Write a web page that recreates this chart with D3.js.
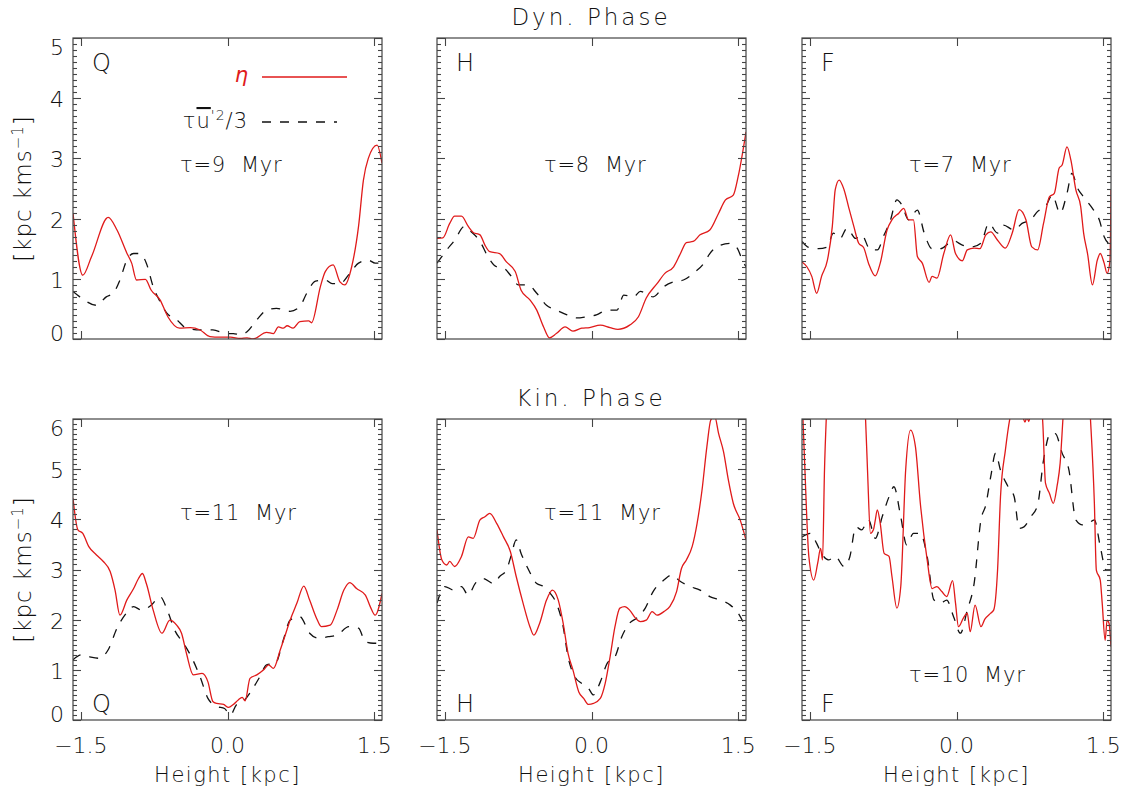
<!DOCTYPE html>
<html lang="en">
  <head>
    <meta charset="UTF-8" />
    <title>Dyn. / Kin. Phase</title>
    <script src="https://cdn.jsdelivr.net/npm/d3@7"></script>
    <style>
      body { margin: 0; background: #fff; }
      text { font-family: "DejaVu Sans", sans-serif; font-weight: 300; fill: #111; white-space: pre; }
    </style>
  </head>
  <body>
    <div id="chart"></div>
    <script>
      // ---- data: [height kpc, value] ----
      const dynQEta = [[-1.58,2.09],[-1.48,1.06],[-1.39,1.37],[-1.22,2.02],[-1.13,1.81],[-1.03,1.43],[-0.98,1.26],[-0.93,0.98],[-0.84,0.99],[-0.78,0.81],[-0.69,0.65],[-0.61,0.37],[-0.49,0.18],[-0.38,0.19],[-0.28,0.15],[-0.18,0.04],[-0.08,0.03],[0.03,0.03],[0.13,0.01],[0.20,0.02],[0.26,0.0],[0.40,0.11],[0.47,0.09],[0.52,0.20],[0.57,0.18],[0.61,0.22],[0.67,0.18],[0.74,0.29],[0.83,0.30],[0.86,0.27],[0.95,0.87],[1.00,1.12],[1.08,1.23],[1.15,0.95],[1.20,0.90],[1.27,1.20],[1.34,1.87],[1.39,2.64],[1.44,3.00],[1.53,3.22],[1.58,2.92]];
      const dynQTurb = [[-1.58,0.79],[-1.51,0.70],[-1.34,0.56],[-1.24,0.70],[-1.17,0.76],[-1.10,0.98],[-1.03,1.31],[-0.96,1.42],[-0.90,1.42],[-0.83,1.26],[-0.76,0.87],[-0.69,0.62],[-0.62,0.43],[-0.52,0.32],[-0.42,0.18],[-0.28,0.15],[-0.15,0.15],[-0.01,0.09],[0.06,0.09],[0.13,0.07],[0.20,0.12],[0.30,0.32],[0.40,0.48],[0.50,0.51],[0.64,0.46],[0.74,0.54],[0.81,0.76],[0.90,0.96],[1.00,0.98],[1.07,0.92],[1.15,0.92],[1.25,1.09],[1.34,1.26],[1.44,1.31],[1.51,1.26],[1.58,1.26]];

      const dynHEta = [[-1.58,1.67],[-1.52,1.68],[-1.45,1.92],[-1.40,2.04],[-1.33,2.04],[-1.26,1.87],[-1.21,1.77],[-1.14,1.73],[-1.09,1.56],[-1.04,1.45],[-0.94,1.42],[-0.87,1.28],[-0.78,1.12],[-0.72,0.81],[-0.63,0.65],[-0.56,0.48],[-0.49,0.20],[-0.43,0.02],[-0.36,0.09],[-0.27,0.20],[-0.19,0.13],[-0.10,0.18],[-0.02,0.19],[0.09,0.23],[0.19,0.19],[0.27,0.16],[0.39,0.23],[0.48,0.37],[0.56,0.68],[0.67,0.92],[0.75,1.09],[0.84,1.20],[0.91,1.42],[0.97,1.60],[1.04,1.62],[1.11,1.73],[1.21,1.81],[1.30,2.09],[1.37,2.31],[1.45,2.39],[1.50,2.70],[1.58,3.44]];
      const dynHTurb = [[-1.58,1.26],[-1.48,1.48],[-1.40,1.64],[-1.30,1.87],[-1.23,1.78],[-1.14,1.62],[-1.06,1.37],[-0.97,1.20],[-0.90,1.18],[-0.82,1.04],[-0.75,0.90],[-0.65,0.90],[-0.56,0.76],[-0.46,0.56],[-0.36,0.48],[-0.25,0.40],[-0.15,0.35],[-0.05,0.37],[0.05,0.40],[0.16,0.48],[0.26,0.48],[0.33,0.73],[0.43,0.70],[0.50,0.79],[0.63,0.70],[0.74,0.87],[0.84,0.95],[0.94,0.98],[1.04,1.09],[1.15,1.26],[1.21,1.42],[1.32,1.56],[1.42,1.59],[1.49,1.51],[1.55,1.28],[1.58,1.20]];

      const dynFEta = [[-1.58,1.28],[-1.53,1.20],[-1.48,1.04],[-1.43,0.76],[-1.38,1.04],[-1.32,1.31],[-1.27,1.87],[-1.24,2.48],[-1.20,2.64],[-1.15,2.48],[-1.10,2.17],[-1.05,1.87],[-1.00,1.59],[-0.95,1.52],[-0.90,1.26],[-0.83,1.05],[-0.78,1.26],[-0.71,1.81],[-0.66,1.98],[-0.59,2.09],[-0.54,2.17],[-0.49,1.98],[-0.44,1.98],[-0.40,1.37],[-0.35,1.26],[-0.28,0.94],[-0.25,1.04],[-0.20,1.01],[-0.13,1.42],[-0.06,1.73],[-0.01,1.42],[0.06,1.30],[0.11,1.48],[0.18,1.51],[0.24,1.50],[0.30,1.73],[0.35,1.78],[0.42,1.64],[0.50,1.51],[0.57,1.76],[0.64,2.15],[0.71,1.98],[0.77,1.53],[0.83,1.48],[0.89,1.92],[0.95,2.36],[1.00,2.42],[1.05,2.84],[1.08,2.89],[1.13,3.19],[1.17,2.97],[1.22,2.48],[1.27,2.20],[1.30,1.76],[1.34,1.42],[1.39,0.90],[1.44,1.31],[1.47,1.42],[1.51,1.26],[1.54,1.09],[1.57,1.31],[1.58,2.48]];
      const dynFTurb = [[-1.58,1.62],[-1.51,1.52],[-1.41,1.50],[-1.32,1.53],[-1.26,1.76],[-1.19,1.67],[-1.12,1.84],[-1.03,1.67],[-0.97,1.73],[-0.88,1.48],[-0.81,1.48],[-0.74,1.73],[-0.68,1.95],[-0.61,2.31],[-0.56,2.23],[-0.49,1.98],[-0.40,2.14],[-0.33,1.76],[-0.25,1.50],[-0.16,1.50],[-0.08,1.59],[-0.03,1.63],[0.06,1.56],[0.16,1.53],[0.25,1.59],[0.33,1.92],[0.42,1.76],[0.48,1.89],[0.59,1.81],[0.67,1.92],[0.76,1.98],[0.83,2.12],[0.91,2.20],[0.98,2.39],[1.06,2.09],[1.13,2.42],[1.18,2.75],[1.24,2.50],[1.30,2.36],[1.39,2.17],[1.46,1.98],[1.51,1.70],[1.58,1.56]];

      const kinQEta = [[-1.58,4.42],[-1.53,3.79],[-1.48,3.72],[-1.42,3.46],[-1.34,3.29],[-1.27,3.16],[-1.20,2.96],[-1.15,2.59],[-1.10,2.09],[-1.03,2.39],[-0.96,2.62],[-0.91,2.82],[-0.87,2.92],[-0.83,2.72],[-0.76,2.19],[-0.67,1.73],[-0.59,1.99],[-0.52,1.89],[-0.47,1.73],[-0.42,1.33],[-0.35,0.90],[-0.26,0.93],[-0.20,0.76],[-0.15,0.37],[-0.11,0.33],[-0.04,0.31],[0.01,0.25],[0.06,0.31],[0.11,0.40],[0.15,0.45],[0.18,0.38],[0.23,0.83],[0.30,0.90],[0.37,1.00],[0.42,1.10],[0.47,1.03],[0.54,1.40],[0.59,1.69],[0.64,1.99],[0.71,2.33],[0.78,2.67],[0.84,2.39],[0.91,2.03],[0.96,1.86],[1.05,1.89],[1.12,2.19],[1.19,2.59],[1.25,2.74],[1.32,2.62],[1.41,2.49],[1.46,2.26],[1.51,2.09],[1.58,2.52]];
      const kinQTurb = [[-1.58,1.20],[-1.49,1.30],[-1.41,1.26],[-1.31,1.23],[-1.22,1.40],[-1.13,1.83],[-1.05,2.09],[-0.96,2.26],[-0.88,2.19],[-0.78,2.29],[-0.69,2.46],[-0.61,2.16],[-0.54,1.79],[-0.45,1.53],[-0.37,1.26],[-0.28,0.86],[-0.20,0.43],[-0.11,0.27],[-0.03,0.23],[0.03,0.10],[0.09,0.30],[0.16,0.37],[0.25,0.60],[0.33,0.86],[0.40,1.10],[0.49,1.13],[0.57,1.59],[0.64,1.99],[0.74,2.06],[0.84,1.73],[0.93,1.63],[1.03,1.66],[1.12,1.69],[1.24,1.86],[1.34,1.83],[1.41,1.56],[1.49,1.53],[1.58,1.53]];

      const kinHEta = [[-1.58,3.79],[-1.53,3.19],[-1.48,3.09],[-1.45,3.16],[-1.40,3.06],[-1.33,3.26],[-1.26,3.65],[-1.21,3.62],[-1.14,3.99],[-1.09,4.05],[-1.04,4.12],[-0.97,3.92],[-0.90,3.65],[-0.83,3.36],[-0.77,2.86],[-0.70,2.33],[-0.63,1.86],[-0.59,1.69],[-0.53,1.93],[-0.46,2.39],[-0.40,2.59],[-0.34,2.39],[-0.29,1.93],[-0.24,1.33],[-0.19,1.00],[-0.13,0.56],[-0.08,0.43],[-0.03,0.31],[0.02,0.33],[0.09,0.43],[0.14,0.73],[0.19,1.26],[0.24,1.86],[0.29,2.23],[0.34,2.26],[0.39,2.19],[0.45,2.03],[0.50,1.96],[0.56,1.99],[0.62,2.16],[0.67,2.09],[0.74,2.16],[0.80,2.26],[0.87,2.56],[0.92,3.02],[0.97,3.19],[1.03,3.46],[1.08,3.92],[1.13,4.58],[1.18,5.45],[1.22,5.98],[1.26,6.05],[1.30,5.71],[1.35,5.35],[1.40,4.78],[1.45,4.32],[1.52,3.99],[1.58,3.59]];
      const kinHTurb = [[-1.58,2.33],[-1.50,2.66],[-1.41,2.59],[-1.33,2.66],[-1.26,2.49],[-1.19,2.72],[-1.11,2.82],[-1.00,2.72],[-0.94,2.86],[-0.87,2.99],[-0.82,3.29],[-0.77,3.59],[-0.72,3.32],[-0.65,3.02],[-0.56,2.72],[-0.49,2.66],[-0.42,2.52],[-0.36,2.33],[-0.29,1.86],[-0.24,1.26],[-0.17,0.86],[-0.10,0.73],[-0.03,0.63],[0.02,0.50],[0.09,0.76],[0.16,1.13],[0.24,1.26],[0.31,1.66],[0.39,1.93],[0.46,2.03],[0.55,2.23],[0.63,2.56],[0.74,2.79],[0.82,2.89],[0.91,2.76],[1.01,2.66],[1.11,2.59],[1.21,2.46],[1.32,2.39],[1.42,2.29],[1.50,2.13],[1.58,1.83]];

      const kinFEta = [[-1.58,6.6],[-1.57,6.0],[-1.55,4.98],[-1.51,3.26],[-1.46,2.79],[-1.42,3.12],[-1.39,3.42],[-1.37,3.19],[-1.35,4.98],[-1.33,6.1],[-1.28,7.5],[-1.00,7.5],[-0.93,6.0],[-0.91,4.98],[-0.88,3.72],[-0.85,3.79],[-0.83,3.99],[-0.81,4.19],[-0.78,3.92],[-0.74,3.32],[-0.69,3.26],[-0.66,2.86],[-0.61,2.23],[-0.57,2.66],[-0.52,4.98],[-0.47,5.78],[-0.42,5.45],[-0.37,4.32],[-0.30,3.19],[-0.25,2.62],[-0.20,2.66],[-0.15,2.56],[-0.10,2.46],[-0.04,2.78],[-0.01,2.33],[0.02,1.86],[0.07,2.03],[0.11,2.13],[0.14,1.76],[0.19,2.29],[0.25,1.86],[0.29,2.01],[0.35,2.13],[0.38,2.19],[0.42,2.99],[0.45,4.45],[0.50,5.38],[0.55,6.05],[0.60,6.3],[0.68,6.03],[0.70,5.94],[0.72,6.03],[0.74,5.95],[0.77,6.3],[0.84,6.5],[0.88,6.0],[0.91,4.72],[0.95,4.52],[0.99,4.32],[1.03,4.68],[1.06,5.12],[1.09,6.05],[1.13,7.2],[1.33,7.2],[1.37,6.0],[1.41,4.32],[1.43,2.99],[1.47,2.79],[1.49,2.33],[1.52,1.59],[1.54,1.99],[1.56,1.93],[1.58,1.46]];
      const kinFTurb = [[-1.58,3.65],[-1.49,3.72],[-1.43,3.52],[-1.38,3.32],[-1.31,3.19],[-1.24,3.26],[-1.15,3.06],[-1.09,3.26],[-1.03,3.85],[-0.97,3.79],[-0.90,3.99],[-0.83,3.62],[-0.76,4.05],[-0.69,4.45],[-0.64,4.65],[-0.57,4.05],[-0.51,3.49],[-0.44,3.72],[-0.37,3.72],[-0.30,3.26],[-0.23,2.39],[-0.16,2.33],[-0.10,2.39],[-0.03,2.06],[0.04,1.73],[0.11,2.19],[0.18,2.72],[0.25,3.99],[0.30,4.29],[0.35,4.85],[0.40,5.32],[0.45,4.98],[0.52,4.68],[0.59,4.45],[0.64,3.82],[0.69,3.85],[0.76,4.05],[0.83,4.29],[0.89,5.18],[0.96,5.71],[1.01,5.71],[1.08,5.32],[1.15,4.98],[1.22,3.99],[1.29,3.89],[1.35,3.92],[1.41,3.99],[1.47,3.46],[1.53,2.99],[1.58,2.99]];

      const xTicks = [-1.5, 0, 1.5];
      const xTickLabels = ["\u22121.5", "0.0", "1.5"];
      const dynTicks = [0, 1, 2, 3, 4, 5];
      const kinTicks = [0, 1, 2, 3, 4, 5, 6];
      const letters = ["Q", "H", "F"];
      const dynTau = ["\u03c4=9\u00a0 Myr", "\u03c4=8\u00a0 Myr", "\u03c4=7\u00a0 Myr"];
      const kinTau = ["\u03c4=11\u00a0 Myr", "\u03c4=11\u00a0 Myr", "\u03c4=10\u00a0 Myr"];

      const W = 1131, H = 795;
      const svg = d3.select("#chart").append("svg").attr("width", W).attr("height", H);

      const pw = 309;
      const lefts = [73, 437, 802];
      const rows = [
        { top: 38, bottom: 339, domain: [0, 5], ticks: dynTicks, title: "Dyn. Phase",
          eta: [dynQEta, dynHEta, dynFEta], turb: [dynQTurb, dynHTurb, dynFTurb], tau: dynTau },
        { top: 419, bottom: 720, domain: [0, 6], ticks: kinTicks, title: "Kin. Phase",
          eta: [kinQEta, kinHEta, kinFEta], turb: [kinQTurb, kinHTurb, kinFTurb], tau: kinTau },
      ];

      const RED = "#e01a1a";
      const DASH = "9,9";

      rows.forEach((row, r) => {
        const ph = row.bottom - row.top;
        const y = d3.scaleLinear().domain(row.domain).range([ph, 0]);
        const minor = d3.range(row.domain[0], row.domain[1] + 0.001, 0.1);

        // row title
        svg.append("text")
          .attr("x", 591).attr("y", row.top - 13)
          .attr("text-anchor", "middle")
          .attr("font-size", 23).attr("letter-spacing", 3)
          .text(row.title);

        lefts.forEach((left, c) => {
          const x = d3.scaleLinear().domain([-1.58, 1.58]).range([0, pw]);
          const g = svg.append("g").attr("transform", `translate(${left},${row.top})`);
          const clipId = `clip-${r}-${c}`;
          g.append("clipPath").attr("id", clipId)
            .append("rect").attr("width", pw).attr("height", ph);

          const line = d3.line()
            .x((d) => x(d[0]))
            .y((d) => y(d[1]))
            .curve(d3.curveMonotoneX);

          const plot = g.append("g").attr("clip-path", `url(#${clipId})`);
          plot.append("path").datum(row.turb[c])
            .attr("d", line).attr("fill", "none")
            .attr("stroke", "#111").attr("stroke-width", 1.3)
            .attr("stroke-dasharray", DASH);
          plot.append("path").datum(row.eta[c])
            .attr("d", line).attr("fill", "none")
            .attr("stroke", RED).attr("stroke-width", 1.3);

          // frame
          g.append("rect").attr("width", pw).attr("height", ph)
            .attr("fill", "none").attr("stroke", "#444").attr("stroke-width", 1.2);

          // inward ticks: y major + minor on both sides
          const tg = g.append("g").attr("stroke", "#444").attr("stroke-width", 1.1);
          minor.forEach((v) => {
            const isMajor = Math.abs(v - Math.round(v)) < 1e-6;
            const len = isMajor ? 8 : 4;
            const yy = Math.round(y(v)) + 0.5;
            tg.append("line").attr("x1", 0).attr("x2", len).attr("y1", yy).attr("y2", yy);
            tg.append("line").attr("x1", pw).attr("x2", pw - len).attr("y1", yy).attr("y2", yy);
          });
          xTicks.forEach((v) => {
            const xx = Math.round(x(v)) + 0.5;
            tg.append("line").attr("x1", xx).attr("x2", xx).attr("y1", ph).attr("y2", ph - 8);
            tg.append("line").attr("x1", xx).attr("x2", xx).attr("y1", 0).attr("y2", 8);
          });

          // y tick labels on left column
          if (c === 0) {
            row.ticks.forEach((v) => {
              const cy = Math.max(9, Math.min(ph - 6, y(v) + 1));
              g.append("text")
                .attr("x", -9).attr("y", cy).attr("dy", "0.36em")
                .attr("text-anchor", "end").attr("font-size", 22)
                .text(v);
            });
            g.append("text")
              .attr("transform", `translate(-42,${ph / 2}) rotate(-90)`)
              .attr("text-anchor", "middle").attr("font-size", 23)
              .attr("letter-spacing", 1)
              .call((t) => {
                t.append("tspan").text("[kpc kms");
                t.append("tspan").attr("font-size", 15).attr("baseline-shift", "55%").text("\u22121");
                t.append("tspan").text("]");
              });
          }

          // x tick labels on bottom row
          if (r === 1) {
            xTicks.forEach((v, i) => {
              g.append("text")
                .attr("x", x(v)).attr("y", ph + 33)
                .attr("text-anchor", "middle").attr("font-size", 22)
                .text(xTickLabels[i]);
            });
            g.append("text")
              .attr("x", pw / 2).attr("y", ph + 62)
              .attr("text-anchor", "middle").attr("font-size", 21)
              .attr("letter-spacing", 1.5)
              .text("Height [kpc]");
          }

          // panel letter
          g.append("text")
            .attr("x", 19).attr("y", r === 0 ? 33 : ph - 8)
            .attr("font-size", 24)
            .text(letters[c]);

          // tau annotation
          const tauY = r === 0 ? 134 : (c === 2 ? 263 : 101);
          g.append("text")
            .attr("x", 107).attr("y", tauY)
            .attr("font-size", 21).attr("letter-spacing", 0.8)
            .text(row.tau[c]);

          // legend in first panel
          if (r === 0 && c === 0) {
            g.append("text")
              .attr("x", 175).attr("y", 44)
              .attr("text-anchor", "end").attr("font-size", 21)
              .style("fill", RED).attr("font-style", "italic")
              .text("\u03b7");
            g.append("line")
              .attr("x1", 189).attr("x2", 274).attr("y1", 39).attr("y2", 39)
              .attr("stroke", RED).attr("stroke-width", 1.3);
            g.append("text")
              .attr("x", 175).attr("y", 90)
              .attr("text-anchor", "end").attr("font-size", 21)
              .attr("letter-spacing", 1)
              .call((t) => {
                t.append("tspan").text("\u03c4");
                t.append("tspan").attr("text-decoration", "overline").text("u");
                t.append("tspan").attr("font-size", 14).attr("baseline-shift", "60%").text("'2");
                t.append("tspan").text("/3");
              });
            g.append("line")
              .attr("x1", 189).attr("x2", 264).attr("y1", 84).attr("y2", 84)
              .attr("stroke", "#111").attr("stroke-width", 1.3)
              .attr("stroke-dasharray", DASH);
          }
        });
      });
    </script>
  </body>
</html>
